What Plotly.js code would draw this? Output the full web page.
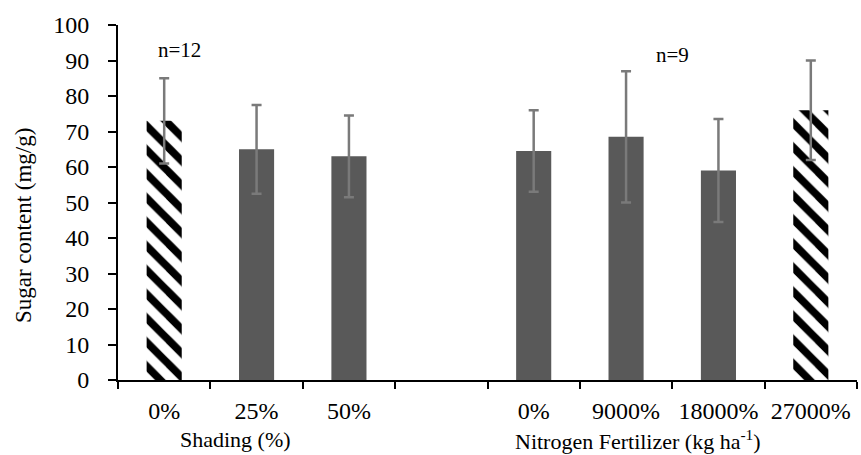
<!DOCTYPE html>
<html>
<head>
<meta charset="utf-8">
<script src="https://cdn.plot.ly/plotly-3.0.1.min.js"></script>
<style>html,body{margin:0;padding:0;background:#fff;}#chart{width:861px;height:455px;}</style>
</head>
<body>
<div id="chart"></div>
<script>
// Data
const categories = ["0%", "25%", "50%", "", "0%", "9000%", "18000%", "27000%"];
const sugarValues = [73, 65, 63, null, 64.5, 68.5, 59, 76];
const sugarErrors = [12, 12.5, 11.5, null, 11.5, 18.5, 14.5, 14];
const hatched = [true, false, false, false, false, false, false, true];
const yAxisTitle = "Sugar content (mg/g)";
const groupTitles = ["Shading (%)", "Nitrogen Fertilizer (kg ha<sup>-1</sup>)"];
const groupTitlePos = [0.77, 5.13];
const sampleLabels = ["n=12", "n=9"];
const sampleLabelPos = [0.17, 5.5];
const sampleLabelY = [93, 91.5];
const yTicks = [0, 10, 20, 30, 40, 50, 60, 70, 80, 90, 100];

const xIdx = categories.map((c, i) => i);
const labelIdx = xIdx.filter((i) => categories[i] !== "");
const FONT = "'Liberation Serif', serif";

function subset(flag) {
  const x = [], y = [], e = [];
  xIdx.forEach((i) => {
    if (sugarValues[i] !== null && hatched[i] === flag) {
      x.push(i); y.push(sugarValues[i]); e.push(sugarErrors[i]);
    }
  });
  return {x, y, e};
}
const solid = subset(false);
const hatch = subset(true);

const errStyle = (arr) => ({type: "data", array: arr, visible: true, color: "#7a7a7a", thickness: 2.5, width: 5});

const traces = [
  {
    type: "bar", x: solid.x, y: solid.y, width: 0.38,
    marker: {color: "#595959", line: {width: 0}},
    error_y: errStyle(solid.e), hoverinfo: "skip", showlegend: false
  },
  {
    type: "bar", x: hatch.x, y: hatch.y, width: 0.38,
    marker: {color: "#ffffff", line: {width: 0},
      pattern: {shape: "\\", fgcolor: "#000000", bgcolor: "#ffffff", size: 17, solidity: 0.45}},
    error_y: errStyle(hatch.e), hoverinfo: "skip", showlegend: false
  }
];

const annotations = [];
groupTitles.forEach((t, i) => annotations.push({
  text: t, x: groupTitlePos[i], xref: "x", y: -0.168, yref: "paper",
  showarrow: false, xanchor: "center", yanchor: "middle",
  font: {family: FONT, size: 22, color: "#000"}
}));
sampleLabels.forEach((t, i) => annotations.push({
  text: t, x: sampleLabelPos[i], xref: "x", y: sampleLabelY[i], yref: "y",
  showarrow: false, xanchor: "center", yanchor: "middle",
  font: {family: FONT, size: 21, color: "#000"}
}));
annotations.push({
  text: yAxisTitle, textangle: -90, x: -0.127, xref: "paper", y: 0.434, yref: "paper",
  showarrow: false, xanchor: "center", yanchor: "middle",
  font: {family: FONT, size: 23, color: "#000"}
});

const layout = {
  width: 861, height: 455,
  margin: {l: 118, r: 4, t: 25, b: 75},
  paper_bgcolor: "#fff", plot_bgcolor: "#fff",
  font: {family: FONT, color: "#000"},
  barmode: "overlay",
  xaxis: {
    range: [-0.5, 7.5], tickmode: "array",
    tickvals: labelIdx, ticktext: labelIdx.map((i) => categories[i]),
    ticks: "", showgrid: false, zeroline: false,
    showline: true, linecolor: "#000", linewidth: 2,
    ticklabelstandoff: 8,
    tickfont: {family: FONT, size: 24, color: "#000"},
    minor: {tickmode: "linear", tick0: -0.5, dtick: 1, ticks: "outside", ticklen: 7, tickwidth: 2, tickcolor: "#000", showgrid: false}
  },
  yaxis: {
    range: [0, 100], tickmode: "array", tickvals: yTicks,
    ticks: "outside", ticklen: 8, tickwidth: 2, tickcolor: "#000",
    showgrid: false, zeroline: false,
    showline: true, linecolor: "#000", linewidth: 2,
    ticklabelstandoff: 14,
    tickfont: {family: FONT, size: 24, color: "#000"}
  },
  annotations: annotations
};

Plotly.newPlot("chart", traces, layout, {staticPlot: true, displayModeBar: false});
</script>
</body>
</html>
